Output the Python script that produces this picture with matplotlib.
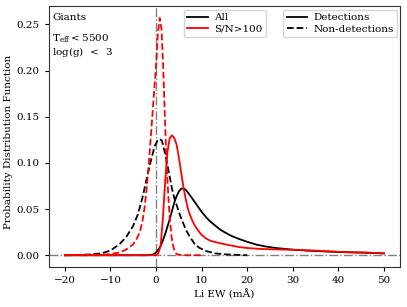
import matplotlib
matplotlib.use("Agg")
import matplotlib.pyplot as plt
from matplotlib.lines import Line2D

plt.rcParams['font.family'] = ['DejaVu Serif']
plt.rcParams['mathtext.fontset'] = 'dejavuserif'

# All stars, detections (black solid)
all_det_x = [-20, -2, -1, -0.5, 0, 0.5, 1, 1.5, 2, 2.5, 3, 3.5, 4, 4.5, 5, 5.5, 6, 6.5, 7, 8, 9, 10, 11, 12,
             13, 14, 15, 16.5, 18, 20, 22, 24, 26, 28, 30, 33, 36, 40, 44, 47, 50]
all_det_y = [0, 0, 0.0005, 0.001, 0.003, 0.006, 0.010, 0.016, 0.023, 0.031, 0.039, 0.048, 0.057, 0.064, 0.069,
             0.072, 0.0725, 0.071, 0.068, 0.061, 0.054, 0.047, 0.041, 0.036, 0.032, 0.028, 0.025, 0.021, 0.018,
             0.0145, 0.0115, 0.0095, 0.008, 0.007, 0.006, 0.005, 0.0043, 0.0035, 0.003, 0.0025, 0.002]

# All stars, non-detections (black dashed)
all_non_x = [-20, -16, -14, -12, -10, -8, -6.5, -5, -4, -3, -2, -1, -0.3, 0.3, 0.8, 1.3, 2, 3, 3.5, 4, 4.8,
             5.5, 6.6, 7.4, 8.5, 9.5, 11, 13, 15, 17, 20]
all_non_y = [0, 0.0005, 0.001, 0.002, 0.005, 0.012, 0.020, 0.032, 0.044, 0.062, 0.084, 0.105, 0.118, 0.124,
             0.126, 0.124, 0.110, 0.085, 0.072, 0.062, 0.050, 0.040, 0.027, 0.020, 0.012, 0.008, 0.0045, 0.002,
             0.001, 0.0005, 0.0]

# S/N>100, detections (red solid)
hi_det_x = [-20, 0, 0.5, 1, 1.5, 2, 2.5, 3, 3.5, 4, 4.5, 5, 5.5, 6, 6.5, 7, 7.5, 8, 8.5, 9.5, 10, 11, 12, 14,
            16, 18, 20, 23, 27, 31, 35, 39, 43, 46, 50]
hi_det_y = [0, 0, 0.002, 0.010, 0.040, 0.080, 0.112, 0.127, 0.130, 0.127, 0.120, 0.106, 0.090, 0.074, 0.061,
            0.050, 0.043, 0.037, 0.032, 0.025, 0.022, 0.018, 0.0155, 0.013, 0.011, 0.009, 0.0078, 0.0068, 0.0062,
            0.0058, 0.005, 0.004, 0.003, 0.003, 0.002]

# S/N>100, non-detections (red dashed)
hi_non_x = [-20, -14, -12, -10, -8, -7, -6, -5, -4, -3.5, -3, -2.5, -2, -1.5, -1, -0.5, 0, 0.4, 0.8, 1.2, 1.6,
            2.0, 2.3, 2.6, 3.0, 3.4, 3.8, 4.2, 4.6, 5.5, 7, 10]
hi_non_y = [0, 0.0002, 0.0005, 0.0012, 0.003, 0.005, 0.008, 0.012, 0.020, 0.026, 0.036, 0.052, 0.075, 0.105,
            0.138, 0.172, 0.205, 0.240, 0.257, 0.245, 0.200, 0.140, 0.100, 0.072, 0.040, 0.020, 0.009, 0.003,
            0.001, 0.0002, 0, 0]

fig = plt.figure(figsize=(4.07, 3.07), dpi=100)
ax = fig.add_axes([0.120, 0.130, 0.863, 0.850])

ax.axvline(0, color='gray', ls='-.', lw=1)
ax.axhline(0, color='gray', ls='-.', lw=1)

ax.plot(all_det_x, all_det_y, color='black', ls='-', lw=1.3)
ax.plot(all_non_x, all_non_y, color='black', ls='--', lw=1.3)
ax.plot(hi_det_x, hi_det_y, color='red', ls='-', lw=1.3)
ax.plot(hi_non_x, hi_non_y, color='red', ls='--', lw=1.3)

ax.set_xlabel('Li EW (mÅ)', fontsize=7.5, labelpad=3)
ax.set_ylabel('Probability Distribution Function', fontsize=7.5)
ax.yaxis.set_label_coords(-0.101, 0.479)
ax.tick_params(labelsize=7.5, length=3)
for s in ax.spines.values():
    s.set_color('#333333')

ax.text(0.01, 0.975, 'Giants', transform=ax.transAxes, fontsize=7.5, va='top', ha='left')
ax.text(0.01, 0.90, r'$\mathrm{T_{eff}} < 5500$' + '\n' + r'log(g) $\,<\,$ 3', transform=ax.transAxes,
        fontsize=7.5, va='top', ha='left', linespacing=1.0)

h1 = [Line2D([], [], color='black', lw=1.3), Line2D([], [], color='red', lw=1.3)]
leg1 = ax.legend(h1, ['All', 'S/N>100'], fontsize=7.5, loc='upper left', bbox_to_anchor=(0.385, 0.985),
                 handlelength=2.0, borderpad=0.3, labelspacing=0.2, handletextpad=0.6, borderaxespad=0)
ax.add_artist(leg1)
h2 = [Line2D([], [], color='black', lw=1.3), Line2D([], [], color='black', lw=1.3, ls='--')]
ax.legend(h2, ['Detections', 'Non-detections'], fontsize=7.5, loc='upper left', bbox_to_anchor=(0.668, 0.985),
          handlelength=2.0, borderpad=0.3, labelspacing=0.2, handletextpad=0.6, borderaxespad=0)

fig.savefig('out.png', dpi=100)
